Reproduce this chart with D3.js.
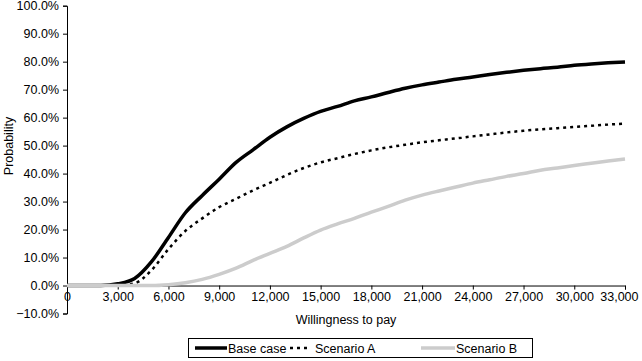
<!DOCTYPE html>
<html><head><meta charset="utf-8">
<script src="https://cdn.jsdelivr.net/npm/d3@7"></script>
<style>
body{margin:0;background:#fff;}
svg text{font-family:"Liberation Sans",Arial,sans-serif;fill:#000;}
</style></head>
<body><svg id="c" width="642" height="361"></svg>
<script>
const wtp = [0,1000,2000,3000,4000,5000,6000,7000,8000,9000,10000,11000,12000,13000,14000,15000,16000,17000,18000,19000,20000,21000,22000,23000,24000,25000,26000,27000,28000,29000,30000,31000,32000,33000];
const baseCase = [0,0,0,0.006,0.025,0.085,0.172,0.26,0.322,0.38,0.44,0.485,0.53,0.567,0.597,0.622,0.64,0.66,0.674,0.69,0.705,0.717,0.727,0.737,0.745,0.754,0.762,0.769,0.775,0.78,0.787,0.792,0.796,0.799];
const scenarioA = [0,0,0,0,0.008,0.055,0.13,0.195,0.24,0.28,0.31,0.34,0.367,0.395,0.42,0.44,0.455,0.47,0.483,0.494,0.503,0.512,0.519,0.526,0.533,0.54,0.547,0.553,0.558,0.562,0.567,0.571,0.575,0.579];
const scenarioB = [0,0,0,0,0,0,0.003,0.01,0.022,0.04,0.062,0.09,0.115,0.14,0.17,0.198,0.22,0.24,0.262,0.283,0.305,0.323,0.338,0.352,0.366,0.378,0.39,0.40,0.412,0.42,0.429,0.437,0.445,0.452];
const xTicks = [0,3000,6000,9000,12000,15000,18000,21000,24000,27000,30000,33000];
const yTicks = [-0.1,0,0.1,0.2,0.3,0.4,0.5,0.6,0.7,0.8,0.9,1.0];
const seriesNames = ["Base case","Scenario A","Scenario B"];

const svg = d3.select("#c");
const x = d3.scaleLinear().domain([0,33000]).range([67,625]);
const y = d3.scaleLinear().domain([-0.1,1]).range([313.5,5.7]);

// y axis
const yAx = svg.append("g").attr("transform","translate(67,0)")
  .call(d3.axisLeft(y).tickValues(yTicks).tickSize(4).tickPadding(4).tickFormat(d=>d3.format(".1f")(d*100)+"%"));
yAx.selectAll("text").style("font-size","12.5px");
// x axis at y=0
const xAx = svg.append("g").attr("transform",`translate(0,${y(0)})`)
  .call(d3.axisBottom(x).tickValues(xTicks).tickSize(4).tickPadding(3).tickFormat(d3.format(",")));
xAx.selectAll("text").style("font-size","12.5px");
xAx.selectAll(".tick").filter(d=>d===33000).select("text").attr("text-anchor","end").attr("dx",13);
svg.selectAll(".domain").attr("stroke","#000").attr("stroke-width",1);
svg.selectAll(".tick line").attr("stroke","#000");

const line = d3.line().x((d,i)=>x(wtp[i])).y(d=>y(d)).curve(d3.curveMonotoneX);
const styles = [
  {data: baseCase, stroke:"#000", w:3.5, dash:null},
  {data: scenarioA, stroke:"#000", w:2.5, dash:"3,4"},
  {data: scenarioB, stroke:"#cccccc", w:3.5, dash:null}
];
styles.forEach(s=>{
  svg.append("path").datum(s.data).attr("d",line).attr("fill","none")
    .attr("stroke",s.stroke).attr("stroke-width",s.w).attr("stroke-dasharray",s.dash)
    .attr("stroke-linejoin","round");
});

// axis titles
svg.append("text").attr("x",346).attr("y",324).attr("text-anchor","middle").style("font-size","12.5px").text("Willingness to pay");
svg.append("text").attr("transform","translate(13,146) rotate(-90)").attr("text-anchor","middle").style("font-size","12.5px").text("Probability");

// legend
const lg = svg.append("g");
lg.append("rect").attr("x",188.5).attr("y",338.5).attr("width",344).attr("height",19).attr("fill","#fff").attr("stroke","#000").attr("stroke-width",1);
const items = [{x0:195,x1:227,tx:228},{x0:290,x1:310,tx:315},{x0:421,x1:455,tx:456}];
items.forEach((it,i)=>{
  const s = styles[i];
  lg.append("line").attr("x1",it.x0).attr("x2",it.x1).attr("y1",348).attr("y2",348)
    .attr("stroke",s.stroke).attr("stroke-width",s.w).attr("stroke-dasharray",s.dash);
  lg.append("text").attr("x",it.tx).attr("y",352.5).style("font-size","12.5px").text(seriesNames[i]);
});
</script></body></html>
